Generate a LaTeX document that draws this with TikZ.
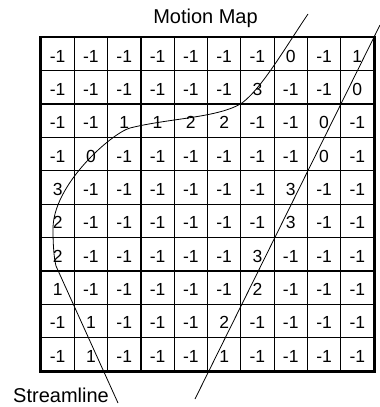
\documentclass[tikz,border=0pt]{standalone}
\usepackage{fontspec}
\setmainfont{Liberation Sans}
\usepackage{tikz}

\begin{document}
\begin{tikzpicture}[x=1pt,y=-1pt,
  cell/.style={draw,line width=1.2pt,minimum width=33.3pt,minimum height=33.37pt,
    inner sep=0pt,text height=16pt,text depth=0pt,font=\fontsize{17.5}{20}\selectfont},
  caption/.style={inner sep=0pt,font=\fontsize{20}{24}\selectfont},
  flow/.style={line width=0.8pt}]
  \useasboundingbox (0,0) rectangle (380,407);
  % the map, one row at a time from the top
  \foreach \v [count=\c] in {-1,-1,-1,-1,-1,-1,-1,0,-1,1}
    \node[cell] (c1-\c) at ({24.35+33.3*\c},54.0) {\v};
  \foreach \v [count=\c] in {-1,-1,-1,-1,-1,-1,3,-1,-1,0}
    \node[cell] (c2-\c) at ({24.35+33.3*\c},87.3) {\v};
  \foreach \v [count=\c] in {-1,-1,1,1,2,2,-1,-1,0,-1}
    \node[cell] (c3-\c) at ({24.35+33.3*\c},120.7) {\v};
  \foreach \v [count=\c] in {-1,0,-1,-1,-1,-1,-1,-1,0,-1}
    \node[cell] (c4-\c) at ({24.35+33.3*\c},154.1) {\v};
  \foreach \v [count=\c] in {3,-1,-1,-1,-1,-1,-1,3,-1,-1}
    \node[cell] (c5-\c) at ({24.35+33.3*\c},187.5) {\v};
  \foreach \v [count=\c] in {2,-1,-1,-1,-1,-1,-1,3,-1,-1}
    \node[cell] (c6-\c) at ({24.35+33.3*\c},220.8) {\v};
  \foreach \v [count=\c] in {2,-1,-1,-1,-1,-1,3,-1,-1,-1}
    \node[cell] (c7-\c) at ({24.35+33.3*\c},254.2) {\v};
  \foreach \v [count=\c] in {1,-1,-1,-1,-1,-1,2,-1,-1,-1}
    \node[cell] (c8-\c) at ({24.35+33.3*\c},287.6) {\v};
  \foreach \v [count=\c] in {-1,1,-1,-1,-1,2,-1,-1,-1,-1}
    \node[cell] (c9-\c) at ({24.35+33.3*\c},320.9) {\v};
  \foreach \v [count=\c] in {-1,1,-1,-1,-1,1,-1,-1,-1,-1}
    \node[cell] (c10-\c) at ({24.35+33.3*\c},354.3) {\v};
  \draw[line width=2pt] (c1-1.north west) rectangle (c10-10.south east);
  \node[caption,anchor=base] (title) at (205.5,23.3) {Motion Map};
  \node[caption,anchor=base east] (stream) at (109,402.8) {Streamline};
  % streamline
  \coordinate (s0) at (308,14);
  \coordinate (s1) at (242,103);
  \coordinate (s2) at (130,128);
  \coordinate (s3) at (53,230);
  \coordinate (s4) at (56,266);
  \coordinate (s5) at (118,403);
  \draw[flow] (s0) .. controls (285,48) and (262,88) .. (s1)
    .. controls (218,118) and (170,118) .. (s2)
    .. controls (112,133) and (52,185) .. (s3)
    .. controls (53,245) and (54,258) .. (s4) -- (s5);
  % straight path
  \coordinate (m0) at (380,25);
  \coordinate (m1) at (195,399);
  \draw[flow] (m0) -- (m1);
\end{tikzpicture}
\end{document}
